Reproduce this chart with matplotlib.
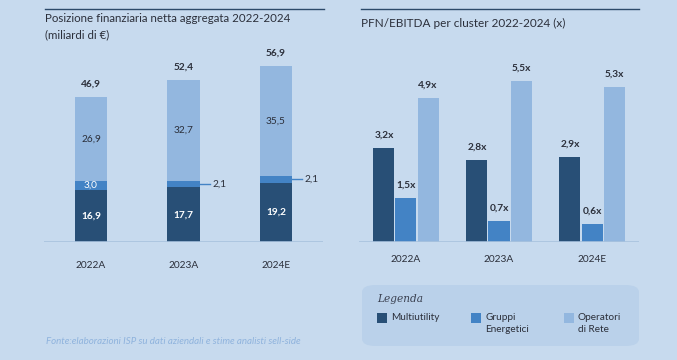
import matplotlib.pyplot as plt
from matplotlib.lines import Line2D
from matplotlib.patches import FancyBboxPatch, Rectangle
import numpy as np

# data
years = ['2022A', '2023A', '2024E']
pfn_multi = [16.9, 17.7, 19.2]
pfn_gruppi = [3.0, 2.1, 2.1]
pfn_oper = [26.9, 32.7, 35.5]
pfn_tot = [46.9, 52.4, 56.9]

ratio_multi = [3.2, 2.8, 2.9]
ratio_gruppi = [1.5, 0.7, 0.6]
ratio_oper = [4.9, 5.5, 5.3]

legend_labels = ['Multiutility', 'Gruppi\nEnergetici', 'Operatori\ndi Rete']

BG = '#c7daee'
C_DARK = '#284f76'
C_MID = '#4383c5'
C_LIGHT = '#93b7df'
TXT = '#2b2f3a'
FONT = 'Lato'

plt.rcParams['font.family'] = [FONT, 'DejaVu Sans']

W, H = 677, 360
fig = plt.figure(figsize=(W / 100, H / 100), dpi=100, facecolor=BG)


def fx(px):
    return px / W


def fy(py):
    return 1 - py / H


def fmt(v):
    return f'{v:.1f}'.replace('.', ',')


# top rules
fig.add_artist(Line2D([fx(45), fx(324)], [fy(9), fy(9)], color='#2c4a6a', lw=1.0))
fig.add_artist(Line2D([fx(361), fx(639)], [fy(9), fy(9)], color='#2c4a6a', lw=1.0))

fig.text(fx(45), fy(18), 'Posizione finanziaria netta aggregata 2022-2024',
         fontsize=8.3, color=TXT, va='center', ha='left')
fig.text(fx(45), fy(35), '(miliardi di €)', fontsize=8.3, color=TXT, va='center', ha='left')
fig.text(fx(361), fy(23), 'PFN/EBITDA per cluster 2022-2024 (x)',
         fontsize=8.5, color=TXT, va='center', ha='left')

# left chart
axl = fig.add_axes([fx(44), fy(242), fx(323) - fx(44), (242 - 40) / H])
axl.set_facecolor('none')
x = np.arange(len(years))
bw = 0.346
axl.bar(x, pfn_multi, bw, color=C_DARK)
b2 = np.array(pfn_multi)
axl.bar(x, pfn_gruppi, bw, bottom=b2, color=C_MID)
b3 = b2 + np.array(pfn_gruppi)
axl.bar(x, pfn_oper, bw, bottom=b3, color=C_LIGHT)
axl.set_xlim(-0.508, 2.508)
axl.set_ylim(0, 202 / 3.09)
for i in range(len(years)):
    axl.text(x[i], pfn_multi[i] / 2, fmt(pfn_multi[i]), ha='center', va='center',
             color='white', fontsize=7.3, fontweight='bold')
    axl.text(x[i], b3[i] + pfn_oper[i] / 2, fmt(pfn_oper[i]), ha='center', va='center',
             color=TXT, fontsize=7.3)
    top = b3[i] + pfn_oper[i]
    axl.annotate(fmt(pfn_tot[i]), (x[i], top), xytext=(0, 13), textcoords='offset pixels',
                 ha='center', va='center', color=TXT, fontsize=7.3, fontweight='bold')
    mid = b2[i] + pfn_gruppi[i] / 2
    if i == 0:
        axl.text(x[i], mid, fmt(pfn_gruppi[i]), ha='center', va='center',
                 color='white', fontsize=7.3)
    else:
        xe = x[i] + bw / 2
        axl.plot([xe, xe + 0.11], [mid, mid], color=C_MID, lw=1, clip_on=False)
        axl.text(xe + 0.14, mid, fmt(pfn_gruppi[i]), ha='left', va='center',
                 color=TXT, fontsize=7.3)
axl.axhline(0, color='#a8c2de', lw=1.2)
for s in axl.spines.values():
    s.set_visible(False)
axl.set_yticks([])
axl.set_xticks(x)
axl.set_xticklabels(years, fontsize=7.3, color=TXT)
axl.tick_params(axis='x', length=0, pad=14)

# right chart
axr = fig.add_axes([fx(359), fy(242), fx(639) - fx(359), (242 - 60) / H])
axr.set_facecolor('none')
rw = 0.226
off = 0.237
series = [(ratio_multi, C_DARK, -off), (ratio_gruppi, C_MID, 0), (ratio_oper, C_LIGHT, off)]
for vals, col, o in series:
    axr.bar(x + o, vals, rw, color=col)
    for i, v in enumerate(vals):
        axr.annotate(fmt(v) + 'x', (x[i] + o, v), xytext=(0, 13), textcoords='offset pixels',
                     ha='center', va='center', color=TXT, fontsize=7.3, fontweight='bold')
axr.set_xlim(-0.505, 2.505)
axr.set_ylim(0, 182 / 29.3)
axr.axhline(0, color='#a8c2de', lw=1.2)
for s in axr.spines.values():
    s.set_visible(False)
axr.set_yticks([])
axr.set_xticks(x)
axr.set_xticklabels(years, fontsize=7.3, color=TXT)
axr.tick_params(axis='x', length=0, pad=9)

# legend box
box = FancyBboxPatch((fx(362), fy(346)), fx(639) - fx(362), (346 - 285) / H,
                     boxstyle='round,pad=0,rounding_size=0.02', transform=fig.transFigure,
                     facecolor='#bad1ea', edgecolor='none')
fig.add_artist(box)
fig.text(fx(377), fy(299), 'Legenda', fontsize=7.6, style='italic', family='DejaVu Serif',
         color='#3a4050', va='center', ha='left')
cols = [C_DARK, C_MID, C_LIGHT]
for k, xs in enumerate([377, 471, 564]):
    fig.add_artist(Rectangle((fx(xs), fy(323)), 10 / W, 10 / H, transform=fig.transFigure,
                             facecolor=cols[k], edgecolor='none'))
    fig.text(fx(xs + 14), fy(313), legend_labels[k], fontsize=7.2, color=TXT,
             va='top', ha='left', linespacing=1.4)

fig.text(fx(46), fy(342), 'Fonte:elaborazioni ISP su dati aziendali e stime analisti sell-side',
         fontsize=7.0, style='italic', color='#8fb3dd', va='center', ha='left')

fig.savefig('out.png', dpi=100, facecolor=BG)
